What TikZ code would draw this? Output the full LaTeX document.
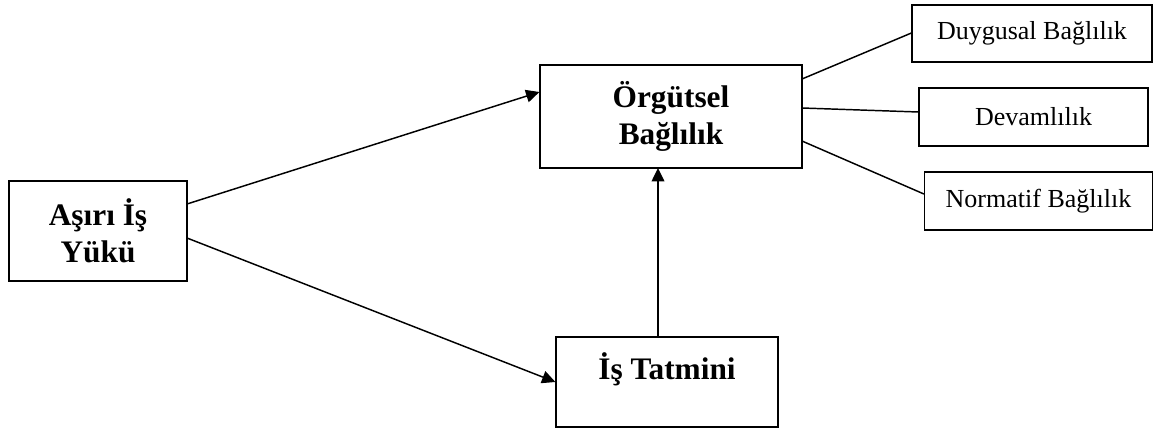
\documentclass[tikz,border=0pt]{standalone}
\usepackage{fontspec}
\setmainfont{Liberation Serif}
\usetikzlibrary{arrows.meta}
\begin{document}
\begin{tikzpicture}[x=0.75pt,y=-0.75pt,
  box/.style={draw, line width=0.9pt, inner sep=0pt, align=center},
  big/.style={font=\fontsize{23.5}{28}\selectfont\bfseries},
  small/.style={font=\fontsize{19.5}{22}\selectfont},
  conn/.style={line width=1.1pt},
  arr/.style={line width=1.1pt, -{Triangle[length=10pt,width=9.5pt]}}]
\useasboundingbox (0,0) rectangle (1154,432);
\node[box, big, minimum width=133.5pt, minimum height=75pt] (asiri) at (98,231) {Aşırı İş\\Yükü};
\node[box, big, minimum width=196.5pt, minimum height=77.25pt] (org) at (671,116.5) {Örgütsel\\Bağlılık};
\node[box, minimum width=166.5pt, minimum height=67.5pt] (tat) at (667,382) {};
\node[big] (tattext) at (667,369) {İş Tatmini};
\node[box, small, minimum width=180pt, minimum height=42.75pt] (duy) at (1032,33.5) {Duygusal Bağlılık};
\node[box, small, minimum width=171.75pt, minimum height=43.5pt] (dev) at (1033.5,117) {Devamlılık};
\node[box, small, minimum width=171pt, minimum height=43.5pt] (nor) at (1038.5,201) {Normatif Bağlılık};
\coordinate (a1) at (187,204);
\coordinate (a2) at (187,238);
\draw[arr] (a1) -- (org.west |- 0,92);
\draw[arr] (a2) -- (tat.west |- 0,382);
\draw[arr] (658,337) -- (658,168);
\draw[conn] (802,79) -- (duy.west |- 0,33);
\draw[conn] (802,108) -- (dev.west |- 0,112);
\draw[conn] (802,141) -- (nor.west |- 0,194);
\end{tikzpicture}
\end{document}
